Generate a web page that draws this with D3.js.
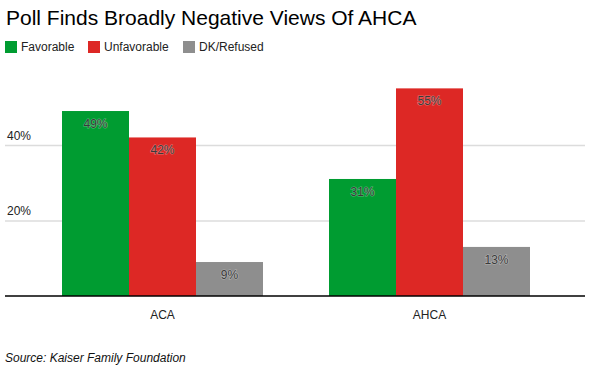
<!DOCTYPE html>
<html><head><meta charset="utf-8">
<script src="https://cdn.jsdelivr.net/npm/d3@7"></script>
<style>body{margin:0;background:#fff}svg{display:block}text{font-family:"Liberation Sans",Arial,Helvetica,sans-serif}</style>
</head><body><svg id="c" width="596" height="374"></svg>
<script>
const categories = ["ACA", "AHCA"];
const seriesNames = ["Favorable", "Unfavorable", "DK/Refused"];
const favorable = [49, 31];
const unfavorable = [42, 55];
const dkRefused = [9, 13];
const yTicks = [20, 40];
const colors = ["#009c31", "#dd2825", "#8e8e8e"];
const title = "Poll Finds Broadly Negative Views Of AHCA";
const source = "Source: Kaiser Family Foundation";

const seriesValues = [favorable, unfavorable, dkRefused];
const svg = d3.select("#c");
const left = 5, right = 585, base = 296;

const y = d3.scaleLinear().domain([0, 60]).range([base, base - 60 * 3.775]);
const x0 = d3.scaleBand().domain(categories).range([29, 563]).paddingInner(0.2472).paddingOuter(0.1236);
const x1 = d3.scaleBand().domain(seriesNames).range([0, x0.bandwidth()]);

svg.append("text").attr("x", 6).attr("y", 25).attr("font-size", 21).attr("fill", "#000").text(title);

// legend
const leg = svg.append("g");
const legendX = [5, 88, 183];
seriesNames.forEach((s, i) => {
  leg.append("rect").attr("x", legendX[i]).attr("y", 41).attr("width", 12).attr("height", 12).attr("fill", colors[i]);
  leg.append("text").attr("x", legendX[i] + 16).attr("y", 51).attr("font-size", 12).attr("fill", "#222").text(s);
});

// grid
const yAxis = d3.axisLeft(y).tickValues(yTicks).tickSize(-(right - left)).tickFormat(d => d + "%");
const ga = svg.append("g").attr("transform", `translate(${left},0)`).call(yAxis);
ga.select(".domain").remove();
ga.selectAll(".tick line").attr("stroke", "#dcdcdc").attr("stroke-width", 1.5);
ga.selectAll(".tick text").attr("x", 2).attr("dy", -6).attr("text-anchor", "start").attr("font-size", 12).attr("fill", "#222").attr("font-family", '"Liberation Sans",Arial,sans-serif');

// bars
const groups = svg.append("g").selectAll("g").data(categories).join("g")
  .attr("transform", d => `translate(${x0(d)},0)`);
groups.each(function(c, ci) {
  const g = d3.select(this);
  seriesNames.forEach((s, si) => {
    const v = seriesValues[si][ci];
    g.append("rect").attr("x", x1(s)).attr("y", y(v)).attr("width", x1.bandwidth()).attr("height", base - y(v)).attr("fill", colors[si]);
    g.append("text").attr("x", x1(s) + x1.bandwidth() / 2).attr("y", y(v) + 17)
      .attr("text-anchor", "middle").attr("font-size", 12).attr("fill", "#3a3a3a")
      .attr("stroke", "rgba(255,255,255,0.35)").attr("stroke-width", 1.2).attr("paint-order", "stroke")
      .text(v + "%");
  });
});

// baseline axis
const xAxis = d3.axisBottom(x0).tickSize(0).tickPadding(10);
const gx = svg.append("g").attr("transform", `translate(0,${base})`).call(xAxis);
gx.select(".domain").remove();
gx.selectAll(".tick text").attr("font-size", 12).attr("fill", "#222").attr("font-family", '"Liberation Sans",Arial,sans-serif').attr("dy", "1.05em");
svg.append("line").attr("x1", left).attr("x2", right).attr("y1", base).attr("y2", base).attr("stroke", "#000").attr("stroke-width", 1.6);

svg.append("text").attr("x", 5).attr("y", 362).attr("font-size", 12).attr("font-style", "italic").attr("fill", "#111").text(source);
</script></body></html>
